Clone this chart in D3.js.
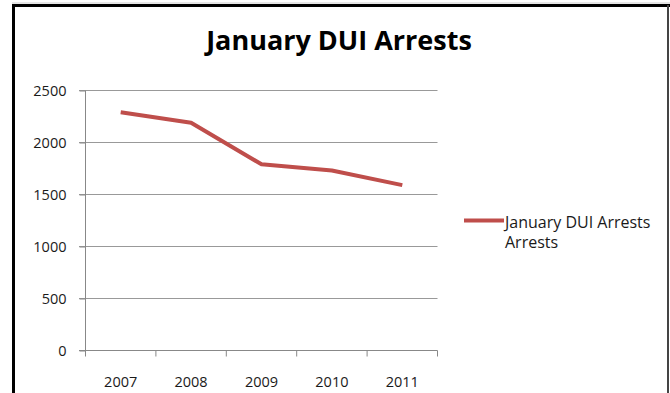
<html>
<head>
<script src="https://d3js.org/d3.v7.min.js"></script>
<style>
	body {margin: 0; background: #fff;}
	svg {display: block;}
</style>
</head>
<body>
<div id="chart"></div>
<script>
// chart data
var years = ["2007", "2008", "2009", "2010", "2011"];
var arrests = [2290, 2190, 1790, 1730, 1590];
var yTicks = [0, 500, 1000, 1500, 2000, 2500];
var seriesName = "January DUI Arrests";

var width = 670;
var height = 393;

var svg = d3.select("#chart").append("svg")
	.attr("width", width)
	.attr("height", height);

// frame around the chart
svg.append("line")
	.attr("x1", 12).attr("x2", 670).attr("y1", 3).attr("y2", 3)
	.style("stroke", "#ccc").style("stroke-width", 1);
svg.append("line")
	.attr("x1", 12).attr("x2", 670).attr("y1", 5.5).attr("y2", 5.5)
	.style("stroke", "#000").style("stroke-width", 3);
svg.append("line")
	.attr("x1", 13.5).attr("x2", 13.5).attr("y1", 4).attr("y2", height)
	.style("stroke", "#000").style("stroke-width", 3);
svg.append("line")
	.attr("x1", 668).attr("x2", 668).attr("y1", 5).attr("y2", height)
	.style("stroke", "#444").style("stroke-width", 2);

// title
svg.append("text")
	.attr("x", 339)
	.attr("y", 50)
	.attr("text-anchor", "middle")
	.style("font-family", "Open Sans")
	.style("font-weight", "bold")
	.style("font-size", "27px")
	.style("fill", "#000")
	.text("January DUI Arrests");

// scales
var xScale = d3.scaleBand().domain(years).range([85.5, 437.5]);
var yScale = d3.scaleLinear().domain([0, 2500]).range([350.5, 90.5]);

// horizontal gridlines
svg.selectAll(".grid")
	.data(yTicks.slice(1))
	.enter()
	.append("line")
	.attr("class", "grid")
	.attr("x1", 79)
	.attr("x2", 437.5)
	.attr("y1", function(d) { return yScale(d); })
	.attr("y2", function(d) { return yScale(d); })
	.style("stroke", "#999")
	.style("stroke-width", 1);

// y axis
var yAxis = svg.append("g")
	.attr("transform", "translate(85.5, 0)")
	.call(d3.axisLeft(yScale).tickValues(yTicks).tickFormat(d3.format("d")).tickSize(6).tickPadding(12));
yAxis.select(".domain").style("stroke", "#888").attr("d", "M0,90.5V350.5");
yAxis.selectAll(".tick line").style("stroke", "#888");
yAxis.selectAll("text")
	.attr("x", -19)
	.style("font-family", "Open Sans")
	.style("font-size", "14.5px")
	.style("fill", "#1a1a1a");

// x axis with ticks between categories
var xAxis = svg.append("g")
	.attr("transform", "translate(0, 350.5)");
xAxis.append("line")
	.attr("x1", 79).attr("x2", 437.5).attr("y1", 0).attr("y2", 0)
	.style("stroke", "#888");
xAxis.selectAll(".xtick")
	.data(years.concat(["end"]))
	.enter()
	.append("line")
	.attr("class", "xtick")
	.attr("x1", function(d, i) { return i < years.length ? xScale(d) : xScale.range()[1]; })
	.attr("x2", function(d, i) { return i < years.length ? xScale(d) : xScale.range()[1]; })
	.attr("y1", 0)
	.attr("y2", 6)
	.style("stroke", "#888");
xAxis.selectAll(".xlabel")
	.data(years)
	.enter()
	.append("text")
	.attr("class", "xlabel")
	.attr("x", function(d) { return xScale(d) + xScale.bandwidth() / 2; })
	.attr("y", 36)
	.attr("text-anchor", "middle")
	.style("font-family", "Open Sans")
	.style("font-size", "14.5px")
	.style("fill", "#1a1a1a")
	.text(function(d) { return d; });

// the line
var line = d3.line()
	.x(function(d, i) { return xScale(years[i]) + xScale.bandwidth() / 2; })
	.y(function(d) { return yScale(d); });

svg.append("path")
	.datum(arrests)
	.attr("d", line)
	.style("fill", "none")
	.style("stroke", "#bf4e4b")
	.style("stroke-width", 4)
	.style("stroke-linejoin", "round");

// legend
svg.append("line")
	.attr("x1", 464).attr("x2", 504).attr("y1", 220.5).attr("y2", 220.5)
	.style("stroke", "#bf4e4b")
	.style("stroke-width", 4);
var legendText = svg.append("text")
	.style("font-family", "Open Sans")
	.style("font-size", "16px")
	.style("fill", "#1a1a1a");
legendText.append("tspan").attr("x", 505).attr("y", 228).text(seriesName);
legendText.append("tspan").attr("x", 505).attr("y", 248).text("Arrests");
</script>
</body>
</html>
